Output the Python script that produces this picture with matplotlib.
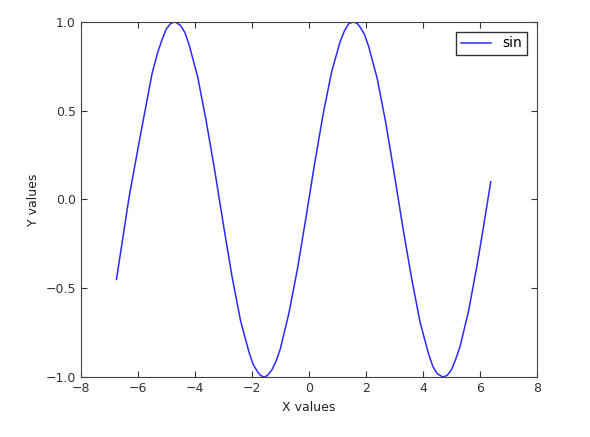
import matplotlib
matplotlib.use("Agg")
import matplotlib.pyplot as plt

# points
x_vals = [-6.75, -6.3, -5.9, -5.5, -5.3, -5.15, -5.0, -4.85, -4.7, -4.5, -4.35, -4.2,
          -3.9, -3.6, -3.3, -3.0, -2.7, -2.4, -2.1, -1.95, -1.8, -1.7, -1.57, -1.45,
          -1.3, -1.15, -1.0, -0.7, -0.4, -0.1, 0.2, 0.5, 0.8, 1.1, 1.25, 1.4,
          1.57, 1.7, 1.8, 1.95, 2.1, 2.4, 2.7, 3.0, 3.3, 3.6, 3.9, 4.2,
          4.35, 4.5, 4.6, 4.71, 4.85, 5.0, 5.15, 5.3, 5.6, 5.9, 6.1, 6.38]
y_vals = [-0.45, 0.02, 0.37, 0.71, 0.83, 0.90, 0.96, 0.99, 1.00, 0.98, 0.94, 0.87,
          0.69, 0.44, 0.16, -0.14, -0.43, -0.68, -0.86, -0.93, -0.97, -0.99, -1.00, -0.99,
          -0.96, -0.91, -0.84, -0.64, -0.39, -0.10, 0.20, 0.48, 0.72, 0.89, 0.95, 0.99,
          1.00, 0.99, 0.97, 0.93, 0.86, 0.68, 0.43, 0.14, -0.16, -0.44, -0.69, -0.87,
          -0.94, -0.98, -0.99, -1.00, -0.99, -0.96, -0.90, -0.83, -0.63, -0.37, -0.18, 0.10]

x_ticks = [-8, -6, -4, -2, 0, 2, 4, 6, 8]
y_ticks = [-1.0, -0.5, 0.0, 0.5, 1.0]

fig = plt.figure(figsize=(5.9, 4.37), dpi=100)
ax = fig.add_axes([0.137, 0.137, 0.773, 0.813])

ax.plot(x_vals, y_vals, color='#2a2aff', linewidth=1.1, label='sin')

ax.set_xlim(-8, 8)
ax.set_ylim(-1.0, 1.0)
ax.set_xticks(x_ticks)
ax.set_yticks(y_ticks)
ax.tick_params(direction='in', top=True, right=True, labelsize=9, length=4, colors='#333333')
for s in ax.spines.values():
    s.set_color('#444444')

ax.set_xlabel('X values', fontsize=9, color='#222222')
ax.set_ylabel('Y values', fontsize=9, color='#222222')

leg = ax.legend(loc='upper right', fancybox=False, fontsize=10, handlelength=2.2,
                borderpad=0.35, borderaxespad=0.7)
leg.get_frame().set_edgecolor('black')
leg.get_frame().set_linewidth(1)

fig.savefig('out.png', dpi=100)
